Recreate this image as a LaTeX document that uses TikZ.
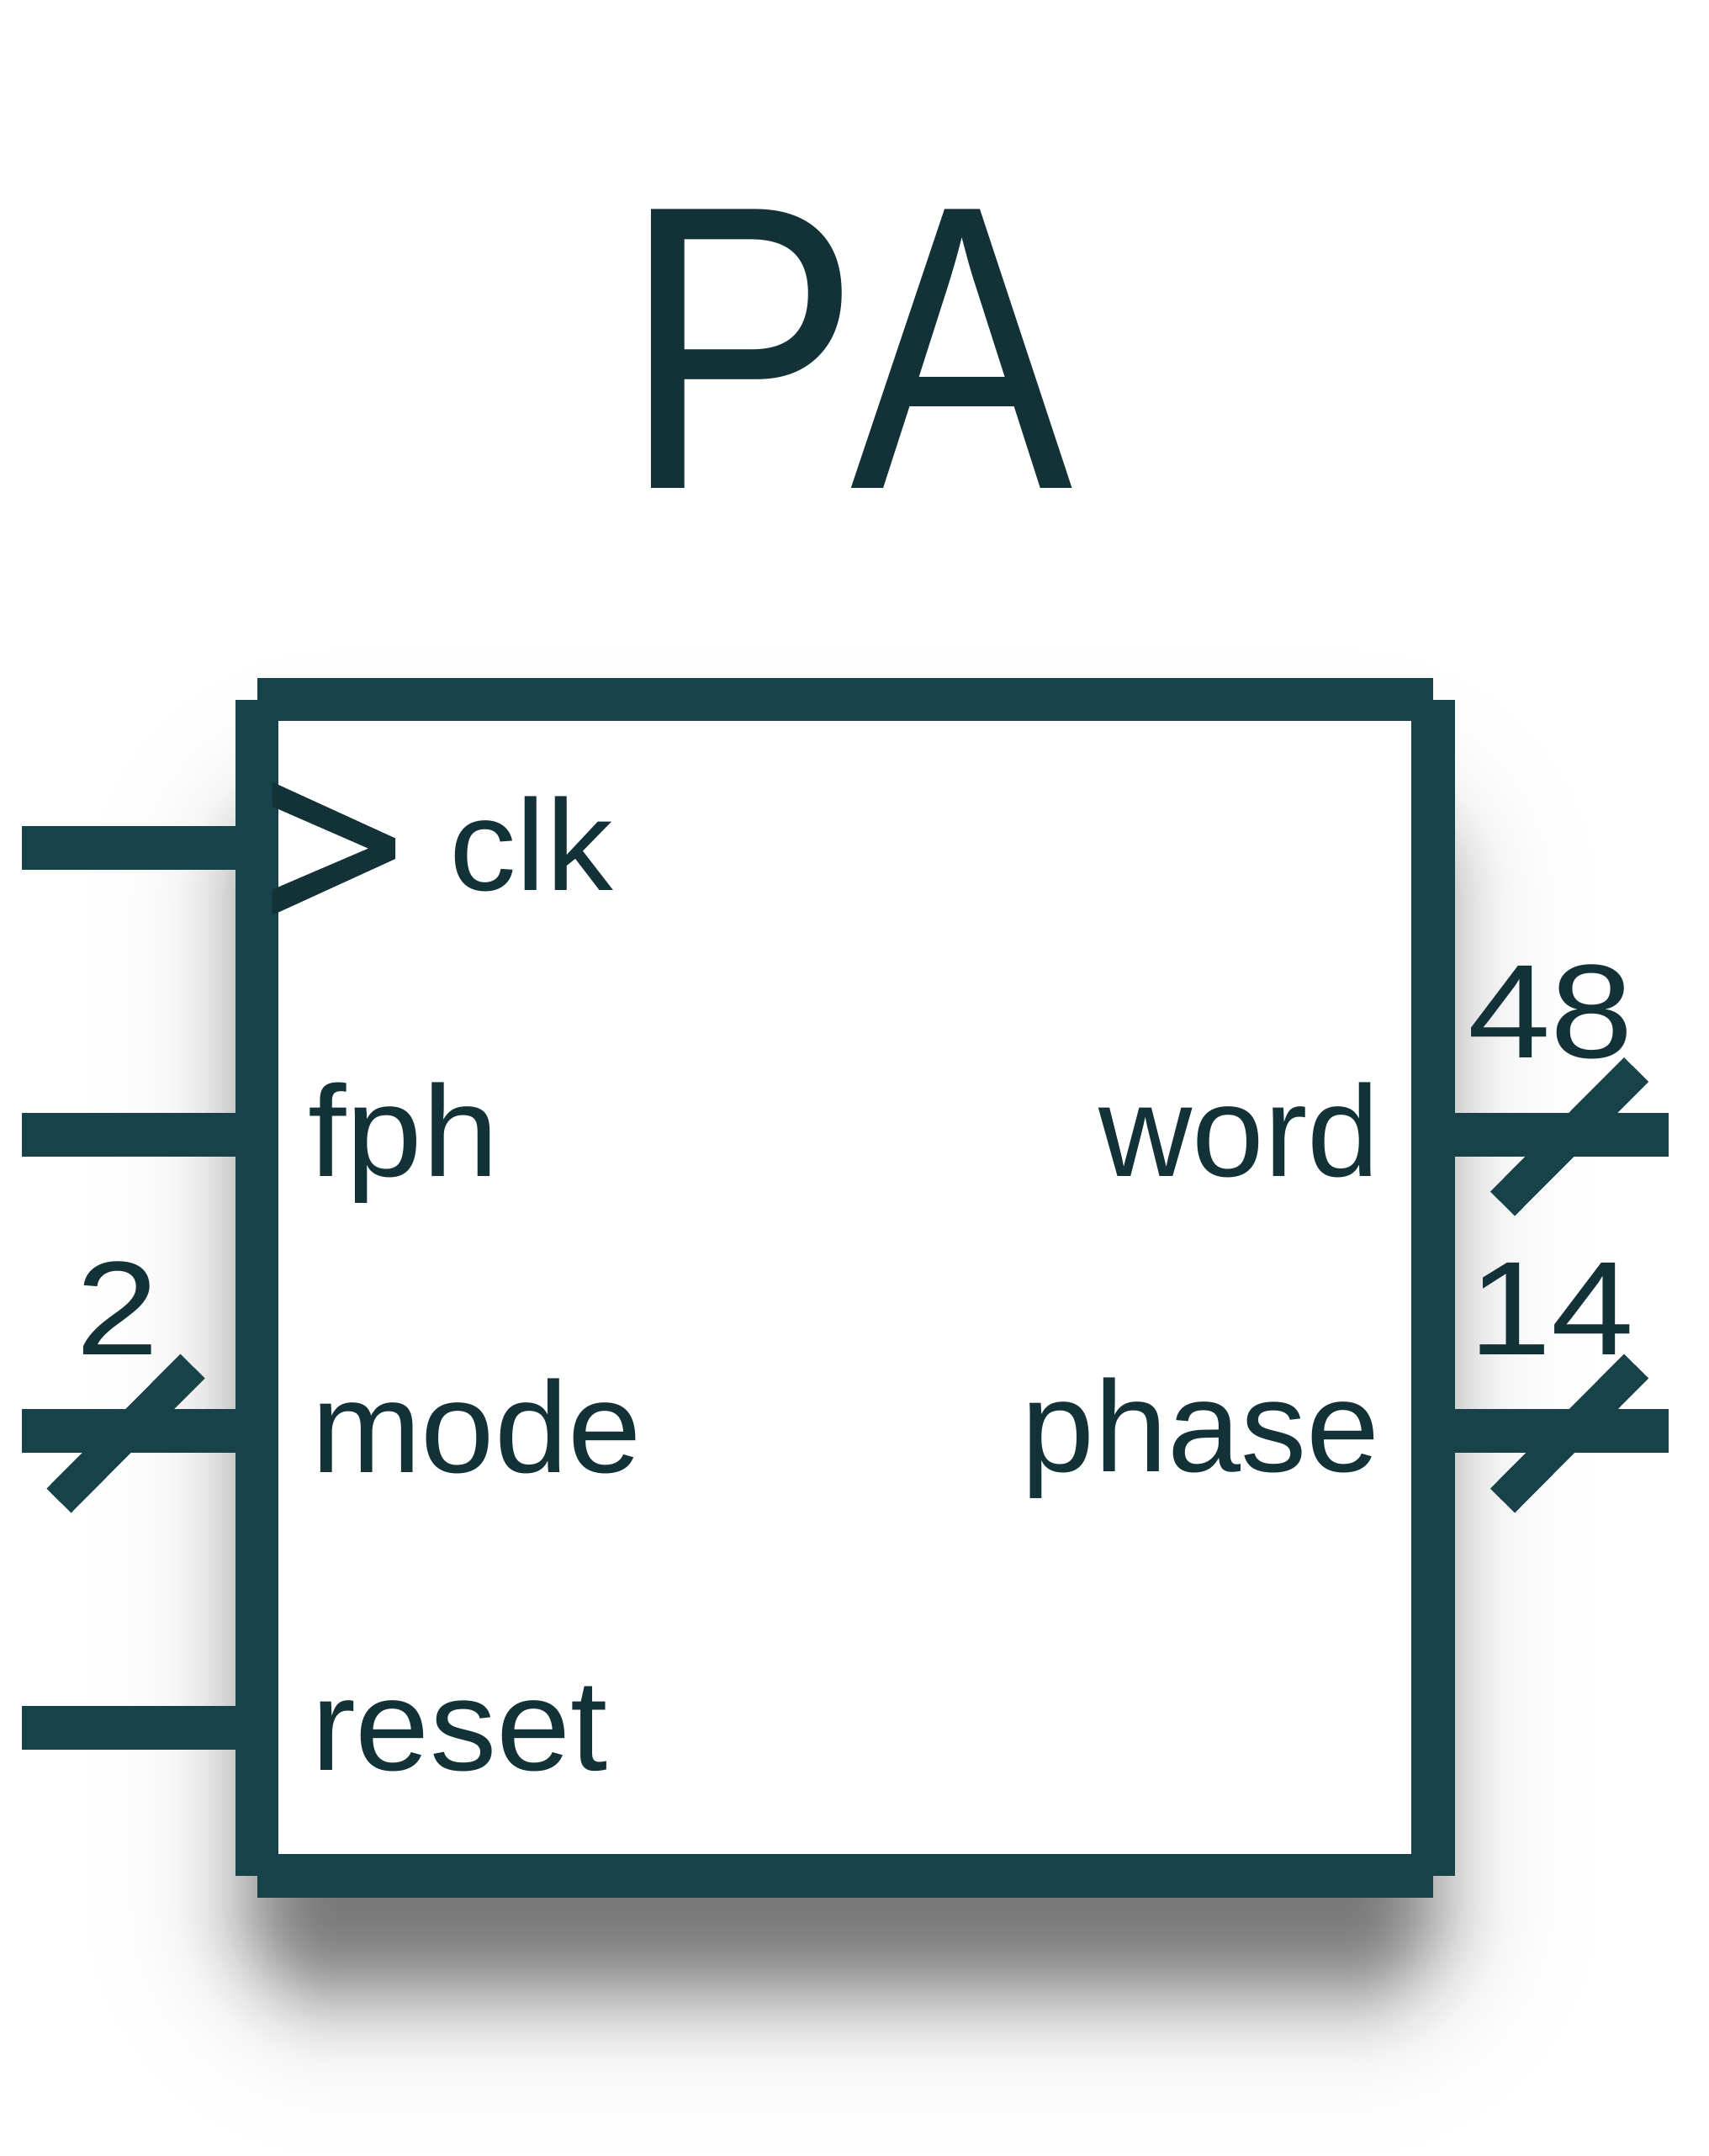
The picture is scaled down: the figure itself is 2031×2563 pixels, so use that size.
\documentclass[tikz,border=0pt]{standalone}
\usepackage{fontspec}
\setmainfont{Liberation Sans}
\usetikzlibrary{calc}
\definecolor{bar}{HTML}{18424A}
\definecolor{ink}{HTML}{123237}
\tikzset{
  barline/.style={draw=bar,line width=51.5pt,line cap=butt},
  slash/.style={draw=bar,line width=41pt,line cap=butt},
  lbl/.style={text=ink,inner sep=0pt,outer sep=0pt,font=\fontsize{154}{160}\selectfont},
  ttl/.style={text=ink,inner sep=0pt,outer sep=0pt,font=\fontsize{482}{490}\selectfont},
}
\begin{document}
\begin{tikzpicture}[x=1pt,y=-1pt]
\useasboundingbox (0,0) rectangle (2031,2563);
\fill[white] (0,0) rectangle (2031,2563);
% blurred shadow: opaque grey layers, outermost first
\foreach \i in {1,...,140}{
  \pgfmathsetmacro{\p}{1-(\i-0.5)/140}
  \pgfmathsetmacro{\d}{34*ln(\p/(1-\p))}
  \pgfmathsetmacro{\r}{max(6,110+\d)}
  \pgfmathsetmacro{\g}{1-0.55*(1-\p)}
  \definecolor{shadowtone}{gray}{\g}
  \fill[shadowtone,rounded corners=\r pt]
    ({296-\d},{965-\d}) rectangle ({1706+\d},{2370+\d});
}
% box
\fill[white] (305,831) rectangle (1704,2230);
\coordinate (tl) at (306,831.5);
\coordinate (tr) at (1704,831.5);
\coordinate (bl) at (306,2230);
\coordinate (br) at (1704,2230);
\coordinate (l1) at (305.5,831.5);
\coordinate (l2) at (305.5,1184);
\coordinate (l3) at (305.5,1525);
\coordinate (l4) at (305.5,1873);
\coordinate (l5) at (305.5,2230);
\coordinate (r1) at (1704,831.5);
\coordinate (r2) at (1704,1184);
\coordinate (r3) at (1704,1525);
\coordinate (r4) at (1704,1873);
\coordinate (r5) at (1704,2230);
\draw[barline] (l1)--(l2); \draw[barline] (l2)--(l3); \draw[barline] (l3)--(l4); \draw[barline] (l4)--(l5);
\draw[barline] (r1)--(r2); \draw[barline] (r2)--(r3); \draw[barline] (r3)--(r4); \draw[barline] (r4)--(r5);
\draw[barline] (tl)--(tr);
\draw[barline] (bl)--(br);
% pins
\coordinate (pclkA) at (26,1008);   \coordinate (pclkB) at (281,1008);
\coordinate (pfphA) at (26,1349);   \coordinate (pfphB) at (281,1349);
\coordinate (pmodA) at (26,1701);   \coordinate (pmodB) at (281,1701);
\coordinate (prstA) at (26,2054);   \coordinate (prstB) at (281,2054);
\coordinate (pwrdA) at (1729,1349); \coordinate (pwrdB) at (1984,1349);
\coordinate (pphaA) at (1729,1701); \coordinate (pphaB) at (1984,1701);
\draw[barline] (pclkA)--(pclkB);
\draw[barline] (pfphA)--(pfphB);
\draw[barline] (pmodA)--(pmodB);
\draw[barline] (prstA)--(prstB);
\draw[barline] (pwrdA)--(pwrdB);
\draw[barline] (pphaA)--(pphaB);
% bus slashes
\coordinate (s1a) at (70,1784);     \coordinate (s1b) at (229,1624);
\coordinate (s2a) at (1786.5,1431); \coordinate (s2b) at (1945.5,1271.5);
\coordinate (s3a) at (1786.5,1784); \coordinate (s3b) at (1945.5,1624);
\draw[slash] (s1a)--(s1b);
\draw[slash] (s2a)--(s2b);
\draw[slash] (s3a)--(s3b);
% clock triangle
\fill[ink] (323.5,929.5)--(470,996.5)--(470,1021)--(323.5,1088)--(323.5,1057.7)--(438,1008.6)--(323.5,958.6)--cycle;
% labels
\node[ttl,anchor=base west] (title) at (739,580) {\scalebox{0.884}[1]{P}\hspace{-12pt}\scalebox{0.822}[1]{A}};
\node[lbl,anchor=base west] (clk) at (534,1058) {\scalebox{1.035}[1]{clk}};
\node[lbl,anchor=base west] (fph) at (366,1398) {\scalebox{1.06}[1]{fph}};
\node[lbl,anchor=base west] (mode) at (370,1750) {\scalebox{1.02}[1]{mode}};
\node[lbl,anchor=base west] (reset) at (370,2104) {\scalebox{1.03}[1]{reset}};
\node[lbl,anchor=base east] (word) at (1640,1398) {word};
\node[lbl,anchor=base east] (phase) at (1641,1749) {\scalebox{1.016}[1]{phase}};
\node[lbl,anchor=base west] (n48) at (1745,1257) {\scalebox{1.15}[1.03]{48}};
\node[lbl,anchor=base west] (n14) at (1746,1610) {\scalebox{1.15}[1.03]{14}};
\node[lbl,anchor=base west] (n2) at (90,1610) {\scalebox{1.15}[1.03]{2}};
\end{tikzpicture}
\end{document}
